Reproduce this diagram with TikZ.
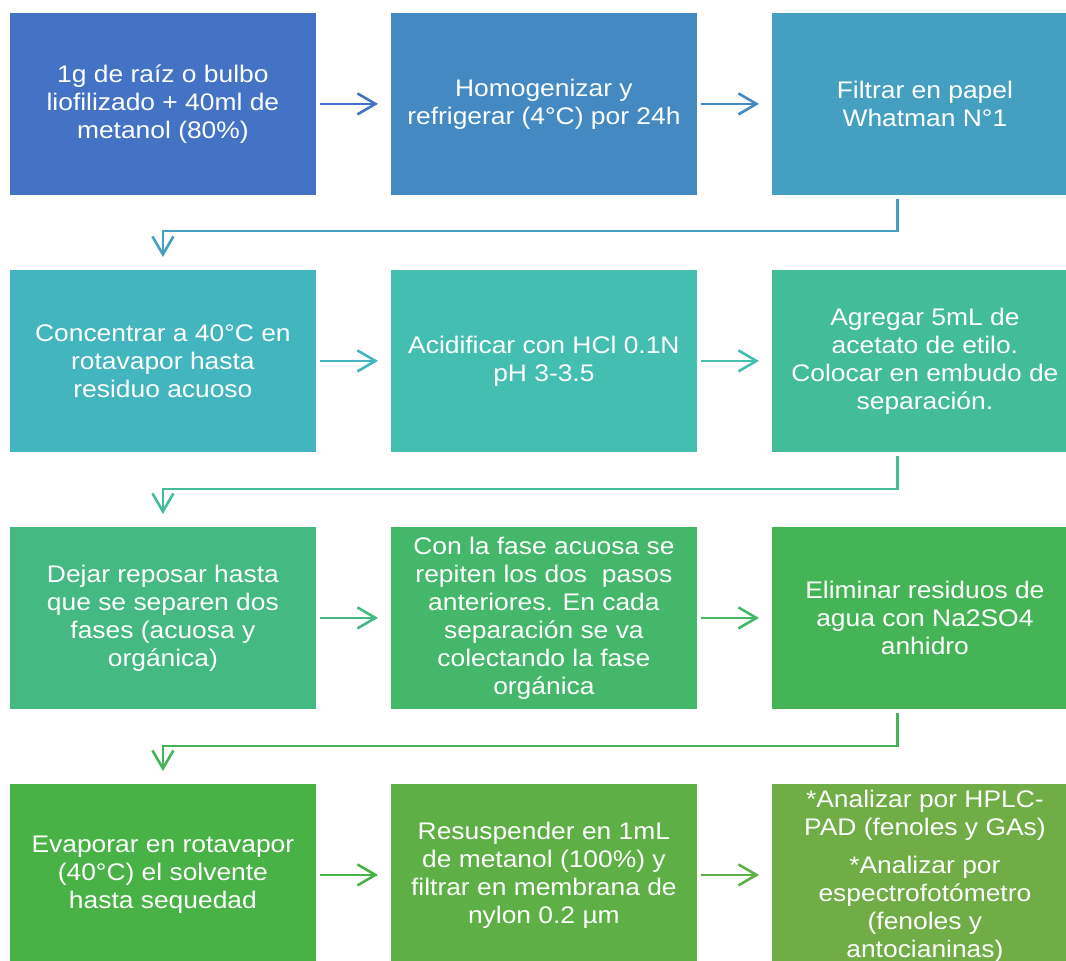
\documentclass[tikz,border=0pt]{standalone}
\usepackage{fontspec}
\setmainfont{Liberation Sans}[FakeStretch=1.1]
\usetikzlibrary{arrows.meta}

% fill colours: a hue ramp from blue to green
\definecolor{c1}{RGB}{68,114,196}
\definecolor{c2}{RGB}{68,137,194}
\definecolor{c3}{RGB}{68,159,193}
\definecolor{c4}{RGB}{67,181,191}
\definecolor{c5}{RGB}{67,190,177}
\definecolor{c6}{RGB}{67,188,153}
\definecolor{c7}{RGB}{68,185,130}
\definecolor{c8}{RGB}{68,183,107}
\definecolor{c9}{RGB}{69,180,86}
\definecolor{c10}{RGB}{73,178,70}
\definecolor{c11}{RGB}{93,175,70}
\definecolor{c12}{RGB}{112,173,71}

\begin{document}
\begin{tikzpicture}[x=1pt,y=-1pt,
  stepbox/.style={draw=white,line width=0.8pt,minimum width=307pt,minimum height=183pt,
    inner sep=0pt,anchor=north west,text=white,font=\fontsize{24}{28}\selectfont,align=center},
  boxtext/.style={text=white,font=\fontsize{24}{28}\selectfont,align=center,inner sep=0pt},
  flow/.style={line width=2.6pt,-{Straight Barb[length=18pt,width=21pt]}}]

\useasboundingbox (0,0) rectangle (1066,961);
\clip (0,0) rectangle (1066,961);

% row 1
\node[stepbox,fill=c1] (b1) at (9,12) {1g de raíz o bulbo\\liofilizado + 40ml de\\metanol (80\%)};
\node[stepbox,fill=c2] (b2) at (390,12) {Homogenizar y\\refrigerar (4°C) por 24h};
\node[stepbox,fill=c3] (b3) at (771,12) {Filtrar en papel\\Whatman N°1};

% row 2
\node[stepbox,fill=c4] (b4) at (9,269) {Concentrar a 40°C en\\rotavapor hasta\\residuo acuoso};
\node[stepbox,fill=c5] (b5) at (390,269) {Acidificar con HCl 0.1N\\pH 3-3.5};
\node[stepbox,fill=c6] (b6) at (771,269) {Agregar 5mL de\\acetato de etilo.\\Colocar en embudo de\\separación.};

% row 3
\node[stepbox,fill=c7] (b7) at (9,526) {Dejar reposar hasta\\que se separen dos\\fases (acuosa y\\orgánica)};
\node[stepbox,fill=c8] (b8) at (390,526) {Con la fase acuosa se\\repiten los dos\ \ pasos\\anteriores. En cada\\separación se va\\colectando la fase\\orgánica};
\node[stepbox,fill=c9] (b9) at (771,526) {Eliminar residuos de\\agua con Na2SO4\\anhidro};

% row 4
\node[stepbox,fill=c10] (b10) at (9,783) {Evaporar en rotavapor\\(40°C) el solvente\\hasta sequedad};
\node[stepbox,fill=c11] (b11) at (390,783) {Resuspender en 1mL\\de metanol (100\%) y\\filtrar en membrana de\\nylon 0.2 µm};
\node[stepbox,fill=c12] (b12) at (771,783) {};
\node[boxtext,anchor=north] (t12) at ([yshift=-7pt]b12.north)
  {*Analizar por HPLC-\\PAD (fenoles y GAs)\\[10pt]*Analizar por\\espectrofotómetro\\(fenoles y\\antocianinas)};

% arrows within each row
\draw[flow,c1]  ([xshift=3pt]b1.east)  -- ([xshift=-12pt]b2.west);
\draw[flow,c2]  ([xshift=3pt]b2.east)  -- ([xshift=-12pt]b3.west);
\draw[flow,c4]  ([xshift=3pt]b4.east)  -- ([xshift=-12pt]b5.west);
\draw[flow,c5]  ([xshift=3pt]b5.east)  -- ([xshift=-12pt]b6.west);
\draw[flow,c7]  ([xshift=3pt]b7.east)  -- ([xshift=-12pt]b8.west);
\draw[flow,c8]  ([xshift=3pt]b8.east)  -- ([xshift=-12pt]b9.west);
\draw[flow,c10] ([xshift=3pt]b10.east) -- ([xshift=-12pt]b11.west);
\draw[flow,c11] ([xshift=3pt]b11.east) -- ([xshift=-12pt]b12.west);

% elbow arrows from the end of one row to the start of the next
\draw[flow,c3] ([xshift=-27.5pt,yshift=-3pt]b3.south) -- ++(0,32) -| ([yshift=12pt]b4.north);
\draw[flow,c6] ([xshift=-27.5pt,yshift=-3pt]b6.south) -- ++(0,33) -| ([yshift=12pt]b7.north);
\draw[flow,c9] ([xshift=-27.5pt,yshift=-3pt]b9.south) -- ++(0,33) -| ([yshift=12pt]b10.north);

\end{tikzpicture}
\end{document}
